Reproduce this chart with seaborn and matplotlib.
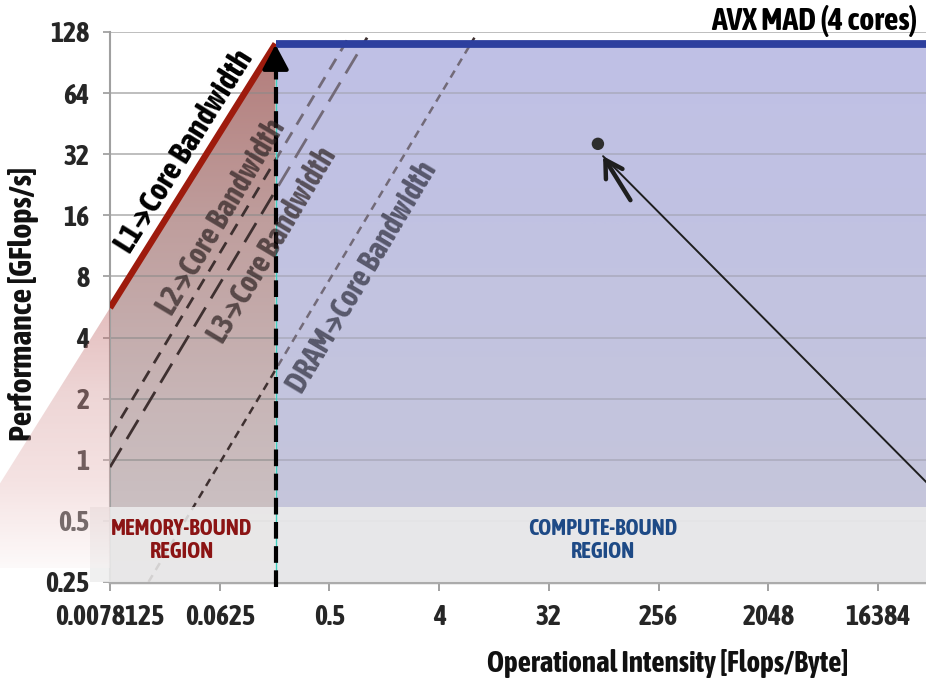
import numpy as np
import matplotlib
matplotlib.use("Agg")
import matplotlib.pyplot as plt
import seaborn as sns
from matplotlib.patches import Polygon
from matplotlib.colors import LinearSegmentedColormap

sns.set_theme(style="white")
plt.rcParams["font.family"] = ["Asap Condensed", "DejaVu Sans"]
plt.rcParams["font.weight"] = "bold"

# ---------------- data ----------------
X_TICKS = [2 ** -7, 2 ** -4, 2 ** -1, 2 ** 2, 2 ** 5, 2 ** 8, 2 ** 11, 2 ** 14]
X_TICK_LABELS = ["0.0078125", "0.0625", "0.5", "4", "32", "256", "2048", "16384"]
Y_TICKS = [0.25, 0.5, 1, 2, 4, 8, 16, 32, 64, 128]
Y_TICK_LABELS = ["0.25", "0.5", "1", "2", "4", "8", "16", "32", "64", "128"]

# compute roof (AVX MAD, 4 cores)
PEAK_GFLOPS = 112
RIDGE_OI = 0.18

# bandwidth ceilings: end points (operational intensity, GFlops/s)
L1_OI, L1_PERF = [0.0078125, 0.18], [5.6, 112]
L2_OI, L2_PERF = [0.0078125, 0.72], [1.3, 120]
L3_OI, L3_PERF = [0.0078125, 1.02], [0.92, 120]
DRAM_OI, DRAM_PERF = [0.0162, 7.8], [0.25, 120]

# measured kernel
KERNEL_OI = [81]
KERNEL_PERF = [36]

# ---------------- layout ----------------
W, H = 926, 682
fig = plt.figure(figsize=(W / 100, H / 100), dpi=100)
fig.patch.set_facecolor("white")

AX_X0, AX_Y0, AX_W, AX_H = 110, 100, 816, 550
XLIM = (2 ** -7, 2 ** 15.31)
YLIM = (0.25, 128)

bg = fig.add_axes([0, 0, 1, 1], zorder=-1)
ax = fig.add_axes([AX_X0 / W, AX_Y0 / H, AX_W / W, AX_H / H], zorder=0)
ov = fig.add_axes([0, 0, 1, 1], zorder=1)
for a in (bg, ov):
    a.set_xlim(0, W)
    a.set_ylim(0, H)
    a.axis("off")
    a.set_facecolor("none")

ax.set_xscale("log", base=2)
ax.set_yscale("log", base=2)
ax.set_xlim(*XLIM)
ax.set_ylim(*YLIM)
ax.set_facecolor("none")


def to_px(x, y):
    return ax.transData.transform((x, y))


def vgradient(target, verts, colors, alpha=1.0):
    """Vertical colour gradient (colors listed bottom -> top) clipped to a polygon."""
    verts = np.asarray(verts, dtype=float)
    x0, x1 = verts[:, 0].min(), verts[:, 0].max()
    y0, y1 = verts[:, 1].min(), verts[:, 1].max()
    cmap = LinearSegmentedColormap.from_list("grad", colors)
    grad = np.linspace(0, 1, 512)[:, None]
    im = target.imshow(grad, cmap=cmap, extent=(x0, x1, y0, y1), origin="lower",
                       aspect="auto", alpha=alpha, interpolation="bilinear", zorder=0)
    clip = Polygon(verts, closed=True, transform=target.transData,
                   facecolor="none", edgecolor="none")
    target.add_patch(clip)
    im.set_clip_path(clip)
    target.set_xlim(0, W)
    target.set_ylim(0, H)


# ---------------- shaded regions ----------------
p_l1a = to_px(L1_OI[0], L1_PERF[0])
p_top = to_px(RIDGE_OI, PEAK_GFLOPS)
p_rb = to_px(RIDGE_OI, YLIM[0])
p_lb = to_px(XLIM[0], YLIM[0])
p_rt = to_px(XLIM[1], PEAK_GFLOPS)

# memory-bound region under the L1 roof
vgradient(bg, [p_l1a, p_top, p_rb, p_lb],
          ["#ccc6c9", "#c8b6b7", "#bf9e9d", "#b37c7a"])
# compute-bound region under the compute roof
vgradient(bg, [(p_rb[0], p_rb[1]), (p_rt[0], p_rb[1]), (p_rt[0], p_top[1]), (p_rb[0], p_top[1])],
          ["#c9c9d1", "#c5c6da", "#c1c2e1", "#bebfe6"])

# pale wedge continuing the L1 roof to the left of the axis
slope = (p_top[1] - p_l1a[1]) / (p_top[0] - p_l1a[0])
y_edge = p_l1a[1] - slope * p_l1a[0]
wedge_bottom = H - 568
vgradient(ov, [(p_l1a[0], p_l1a[1]), (0, y_edge), (0, wedge_bottom), (p_l1a[0], wedge_bottom)],
          ["#faf2f2", "#e6b8b8", "#d49898", "#bb5c5c"], alpha=0.4)

# ---------------- axes styling ----------------
ax.set_xticks(X_TICKS)
ax.set_xticklabels(X_TICK_LABELS)
ax.set_yticks(Y_TICKS)
ax.set_yticklabels(Y_TICK_LABELS)
ax.minorticks_off()
ax.tick_params(axis="x", which="major", length=6.5, width=1.3, color="#9a9a9a",
               pad=9, labelsize=20, bottom=True)
ax.tick_params(axis="y", which="major", length=5, width=1.2, color="#9a9a9a",
               pad=10, labelsize=20, left=True)
for lab in ax.get_xticklabels() + ax.get_yticklabels():
    lab.set_fontweight("bold")
ax.grid(axis="y", color="#8a8a8a", alpha=0.6, lw=1.3)
ax.grid(axis="x", visible=False)
for side in ("top", "right"):
    ax.spines[side].set_visible(False)
ax.spines["left"].set_color("#a0a0a0")
ax.spines["left"].set_linewidth(1.5)
ax.spines["bottom"].set_color("#ababab")
ax.spines["bottom"].set_linewidth(2.5)

ax.set_xlabel("Operational Intensity [Flops/Byte]", fontsize=21, fontweight="bold",
              color="#111111", va="center")
ax.xaxis.set_label_coords(0.684, -0.149)
ax.set_ylabel("Performance [GFlops/s]", fontsize=23, fontweight="bold",
              color="#111111", va="center")
ax.yaxis.set_label_coords(-0.106, 0.505)

# ---------------- ceilings ----------------
line_col = "#3e3030"
sns.lineplot(x=L2_OI, y=L2_PERF, ax=ax, color=line_col, lw=2.0,
             linestyle=(0, (4.5, 3.2)), zorder=2.6)
sns.lineplot(x=L3_OI, y=L3_PERF, ax=ax, color=line_col, lw=2.0,
             linestyle=(0, (8, 3.8)), zorder=2.6)
sns.lineplot(x=DRAM_OI, y=DRAM_PERF, ax=ax, color=line_col, lw=1.8,
             linestyle=(0, (3.2, 2.4)), zorder=2.6)

# translucent tint over the compute-bound side
ax.fill_between([RIDGE_OI, XLIM[1]], YLIM[0], PEAK_GFLOPS, color="#c2c3e5",
                alpha=0.4, lw=0, zorder=2.7)

# roofs
sns.lineplot(x=L1_OI, y=L1_PERF, ax=ax, color="#9e1b0d", lw=4.6, zorder=4,
             solid_capstyle="butt")
sns.lineplot(x=[RIDGE_OI, XLIM[1]], y=[PEAK_GFLOPS, PEAK_GFLOPS], ax=ax,
             color="#2d3f9e", lw=5.6, zorder=4, solid_capstyle="butt")

# region boxes
ax.fill_between([2 ** -7.55, RIDGE_OI], YLIM[0], 0.585, color="#eeeeee",
                alpha=0.85, lw=0, zorder=3, clip_on=False)
ax.fill_between([RIDGE_OI, XLIM[1]], YLIM[0], 0.585, color="#ececec",
                alpha=0.88, lw=0, zorder=3)

ax.text(0.0306, 0.40, "MEMORY-BOUND\nREGION", ha="center", va="center",
        fontsize=16, fontweight="bold", color="#8b1414", linespacing=1.1, zorder=6)
ax.text(89.3, 0.40, "COMPUTE-BOUND\nREGION", ha="center", va="center",
        fontsize=16, fontweight="bold", color="#1e4a86", linespacing=1.1, zorder=6)

# ridge marker: cyan guide + dashed arrow up to the peak
ax.plot([RIDGE_OI, RIDGE_OI], [YLIM[0], 108], color="#3fd0c0", lw=1.0, zorder=4.9)
ax.plot([RIDGE_OI, RIDGE_OI], [0.235, 95], color="black", lw=3.0,
        linestyle=(0, (4, 1.8)), zorder=5, clip_on=False)
ax.annotate("", xy=(RIDGE_OI, 111), xytext=(RIDGE_OI, 85),
            arrowprops=dict(arrowstyle="-|>,head_length=0.75,head_width=0.4",
                            color="black", lw=3, shrinkA=0, shrinkB=0,
                            mutation_scale=20), zorder=5)


# ceiling labels, rotated parallel to their lines
def angle_of(xs, ys):
    a, b = to_px(xs[0], ys[0]), to_px(xs[1], ys[1])
    return np.degrees(np.arctan2(b[1] - a[1], b[0] - a[0]))


ax.text(0.0324, 32.8, "L1→Core Bandwidth", rotation=angle_of(L1_OI, L1_PERF),
        rotation_mode="anchor", ha="center", va="center", fontsize=23,
        fontweight="bold", color="black", zorder=6)
ax.text(0.0653, 15.7, "L2→Core Bandwidth", rotation=angle_of(L2_OI, L2_PERF),
        rotation_mode="anchor", ha="center", va="center", fontsize=22,
        fontweight="bold", color="#2b2020", alpha=0.7, zorder=6)
ax.text(0.171, 11.4, "L3→Core Bandwidth", rotation=angle_of(L3_OI, L3_PERF),
        rotation_mode="anchor", ha="center", va="center", fontsize=22,
        fontweight="bold", color="#2b2020", alpha=0.7, zorder=6)
ax.text(0.927, 7.86, "DRAM→Core Bandwidth", rotation=angle_of(DRAM_OI, DRAM_PERF),
        rotation_mode="anchor", ha="center", va="center", fontsize=22,
        fontweight="bold", color="#2b2b3a", alpha=0.7, zorder=6)

ax.text(0.990, 1.004, "AVX MAD (4 cores)", transform=ax.transAxes, ha="right",
        va="baseline", fontsize=23, fontweight="bold", color="black")

# ---------------- measured kernel ----------------
sns.scatterplot(x=KERNEL_OI, y=KERNEL_PERF, ax=ax, s=80, color="#2e2e2e",
                edgecolor="none", zorder=7)
tip = (89.3, 31.3)
ax.annotate("", xy=tip, xytext=(1.13e5, 0.42),
            arrowprops=dict(arrowstyle="-", color="#1e1e1e", lw=1.4,
                            shrinkA=0, shrinkB=0), annotation_clip=False, zorder=7)
ax.annotate("", xy=tip, xytext=(150, 19),
            arrowprops=dict(arrowstyle="->,head_length=0.6,head_width=0.35",
                            color="#1e1e1e", lw=3.2, shrinkA=0, shrinkB=0,
                            mutation_scale=20), annotation_clip=False, zorder=7)

fig.savefig("out.png", dpi=100, facecolor="white")
